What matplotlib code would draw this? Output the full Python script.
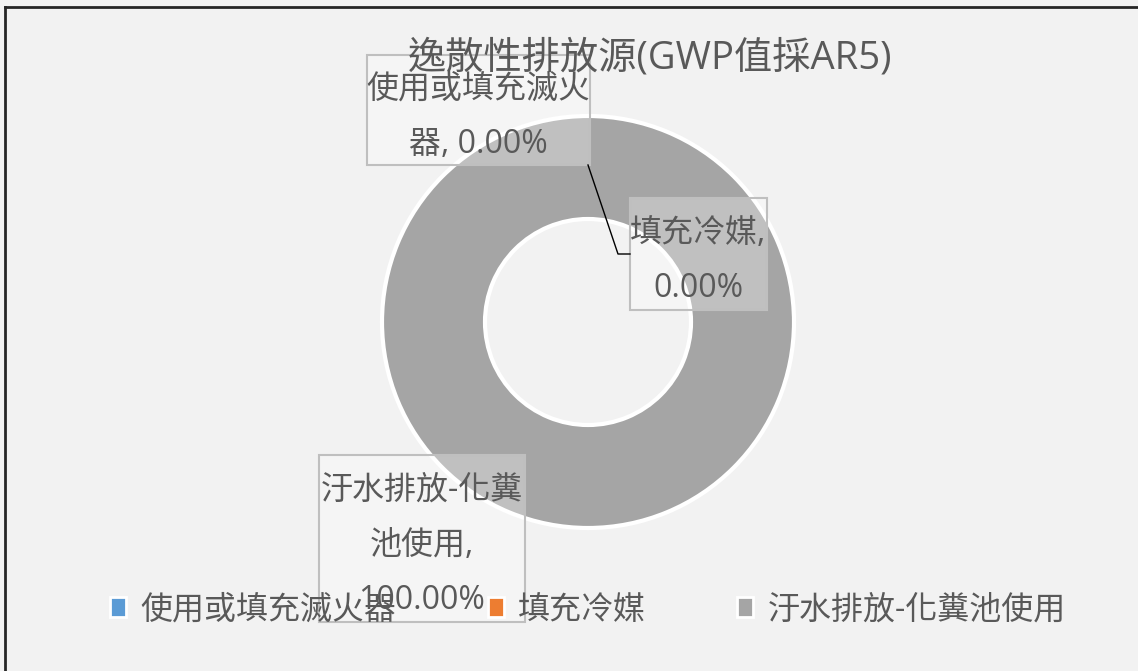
import matplotlib.pyplot as plt
from matplotlib.lines import Line2D
from matplotlib.patches import Patch

plt.rcParams['font.family'] = ['Open Sans', 'Noto Sans CJK TC', 'DejaVu Sans']

# data
categories = ['使用或填充滅火器', '填充冷媒', '汙水排放-化糞池使用']
shares = [0.0, 0.0, 100.0]
colors = ['#5b9bd5', '#ed7d31', '#a5a5a5']
label_texts = ['使用或填充滅火\n器, 0.00%', '填充冷媒,\n0.00%', '汙水排放-化糞\n池使用,\n100.00%']
title = '逸散性排放源(GWP值採AR5)'

W, H = 1138, 671
fig = plt.figure(figsize=(W / 100, H / 100), dpi=100, facecolor='#f2f2f2')

def fx(px):
    return px / W

def fy(py):
    return 1 - py / H

# frame lines on top and left
fig.add_artist(Line2D([fx(5), fx(5)], [fy(7), 0], color='#262626', lw=2, transform=fig.transFigure))
fig.add_artist(Line2D([fx(5), 1], [fy(7), fy(7)], color='#262626', lw=2, transform=fig.transFigure))

# donut
ax = fig.add_axes([fx(382), fy(528), fx(412), 412 / H])
ax.set_facecolor('none')
ax.pie(shares, colors=colors, startangle=90, counterclock=False, radius=1,
       wedgeprops=dict(width=0.5, edgecolor='white', linewidth=3, clip_on=False))
ax.set_xlim(-1, 1)
ax.set_ylim(-1, 1)
ax.set_aspect('auto')
ax.axis('off')

fig.text(fx(650), fy(59), title, ha='center', va='center', fontsize=27.5, color='#595959')

# data label boxes (semi-transparent, light border)
boxes = [(367, 55, 590, 165), (630, 198, 767, 310), (319, 455, 525, 622)]
for (x0, y0, x1, y1), txt in zip(boxes, label_texts):
    fig.patches.append(plt.Rectangle((fx(x0), fy(y1)), fx(x1 - x0), (y1 - y0) / H,
                                     transform=fig.transFigure, facecolor='white', alpha=0.3,
                                     edgecolor='none', zorder=3))
    fig.patches.append(plt.Rectangle((fx(x0), fy(y1)), fx(x1 - x0), (y1 - y0) / H,
                                     transform=fig.transFigure, facecolor='none',
                                     edgecolor='#bfbfbf', lw=1.5, zorder=3))
    fig.text(fx((x0 + x1) / 2), fy((y0 + y1) / 2 + 7), txt, ha='center', va='center',
             fontsize=23, color='#595959', linespacing=1.88, zorder=4)

# leader line for the second label
fig.add_artist(Line2D([fx(588), fx(618), fx(630)], [fy(165), fy(254), fy(254)],
                      color='black', lw=1, transform=fig.transFigure, zorder=5))

handles = [Patch(facecolor=c, edgecolor='white', lw=2) for c in colors]
leg = fig.legend(handles, categories, loc='center', bbox_to_anchor=(fx(588), fy(610)),
                 ncol=3, frameon=False, fontsize=23, handlelength=0.5, handleheight=0.6,
                 handletextpad=0.45, columnspacing=2.85, labelcolor='#595959')
leg.set_zorder(6)

fig.savefig('out.png', dpi=100, facecolor=fig.get_facecolor())
